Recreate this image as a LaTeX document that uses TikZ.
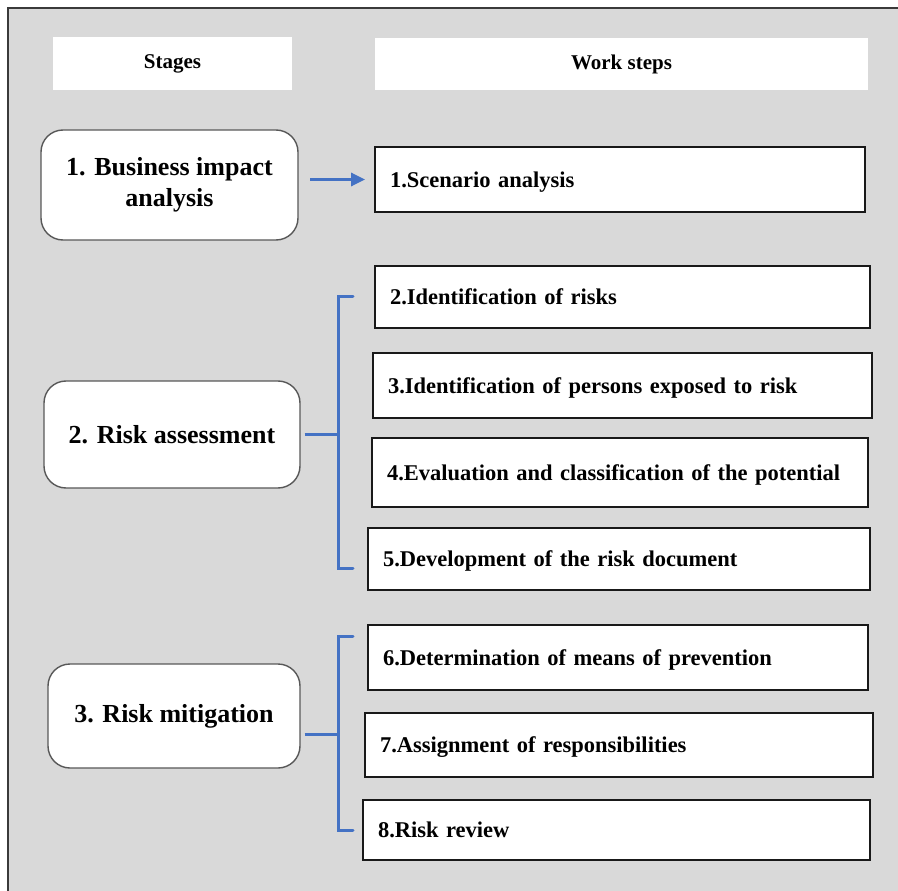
\documentclass[tikz,border=0pt]{standalone}
\usepackage{fontspec}
\setmainfont{Liberation Serif}
\usetikzlibrary{arrows.meta}
\definecolor{bgray}{HTML}{D9D9D9}
\definecolor{bblue}{HTML}{4472C4}
\definecolor{frame}{HTML}{3A3A3A}
\tikzset{
  hdr/.style={fill=white, draw=none, inner sep=0pt, font=\bfseries\fontsize{21}{25}\selectfont},
  stagebox/.style={fill=white, draw=frame!85, line width=1.4pt, rounded corners=22pt, align=center, inner sep=0pt,
    font=\bfseries\fontsize{26}{31}\selectfont},
  stepbox/.style={fill=white, draw=black!90, line width=1.8pt, inner xsep=15pt, inner ysep=0pt, align=left,
    text height=15pt, text depth=0pt, font=\bfseries\fontsize{22.5}{27}\selectfont},
  link/.style={draw=bblue, line width=3pt},
}
\newcommand{\stepnode}[6]{% name, cx, cy, w, h, text
  \node[stepbox, text width=#4pt-30pt, minimum height=#5pt] (#1) at (#2,#3) {#6};}
\begin{document}
\begin{tikzpicture}[x=1pt,y=-1pt]
\useasboundingbox (0,0) rectangle (898,891);
\fill[white] (0,0) rectangle (898,891);
\draw[fill=bgray, draw=frame, line width=2pt] (8,8) rectangle (910,905);
% headers
\node[hdr, minimum width=239pt, minimum height=53pt] (hs) at (172.5,63.5) {Stages};
\node[hdr, minimum width=493pt, minimum height=52pt] (hw) at (621.5,64) {Work steps};
% stages
\node[stagebox, minimum width=257pt, minimum height=110pt] (s1) at (169.5,185) {\raisebox{-2pt}{1. Business impact}\\\raisebox{-2pt}{analysis}};
\node[stagebox, minimum width=256pt, minimum height=107pt] (s2) at (172,434.5) {2. Risk assessment};
\node[stagebox, minimum width=252pt, minimum height=104pt] (s3) at (174,716) {3. Risk mitigation};
% work steps
\stepnode{w1}{620}{179.5}{490}{65}{1.Scenario analysis}
\stepnode{w2}{622.5}{297}{495}{62}{2.Identification of risks}
\stepnode{w3}{622.5}{385.5}{499}{65}{3.Identification of persons exposed to risk}
\stepnode{w4}{620}{472.5}{496}{69}{4.Evaluation and classification of the potential}
\stepnode{w5}{619}{559}{502}{62}{5.Development of the risk document}
\stepnode{w6}{618}{657.5}{500}{65}{6.Determination of means of prevention}
\stepnode{w7}{619}{745}{508}{64}{7.Assignment of responsibilities}
\stepnode{w8}{616.5}{830}{507}{60}{8.Risk review}
% arrow
\coordinate (a1) at (310,179.5);
\draw[link, -{Triangle[length=14pt,width=13pt]}] (a1) -- ([xshift=-9pt]w1.west);
% brace 1
\coordinate (b1t) at (353,296);
\coordinate (b1b) at (353,568);
\coordinate (b1m) at (338,434.5);
\draw[link, line cap=round] (b1t) -- (338,296) -- (338,568) -- (b1b);
\draw[link] ([xshift=4pt]s2.east) -- (b1m);
% brace 2
\coordinate (b2t) at (353,636);
\coordinate (b2b) at (353,830);
\coordinate (b2m) at (338,734);
\draw[link, line cap=round] (b2t) -- (338,636) -- (338,830) -- (b2b);
\draw[link] ([xshift=4pt]s3.east |- b2m) -- (b2m);
\end{tikzpicture}
\end{document}
